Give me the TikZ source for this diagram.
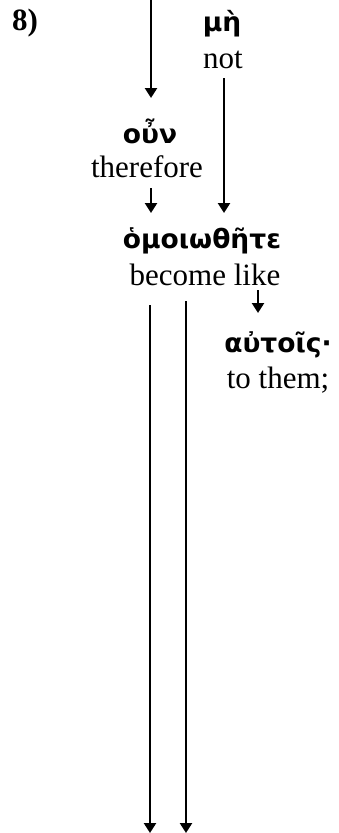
\documentclass[tikz,border=0pt]{standalone}
\usepackage{fontspec}
\setmainfont{Liberation Serif}
\newfontfamily\greekfont{DejaVu Sans}
\usetikzlibrary{arrows.meta}
\tikzset{
  eng/.style={inner sep=0pt, font=\fontsize{31}{36}\selectfont},
  grk/.style={inner sep=0pt, font=\greekfont\bfseries\fontsize{26.5}{32}\selectfont},
  conn/.style={line width=2.4pt, -{Triangle[width=12pt,length=10pt]}},
}
\begin{document}
\begin{tikzpicture}[x=1pt,y=-1pt]
\useasboundingbox (0,0) rectangle (338,833);
\node[eng, font=\bfseries\fontsize{31}{36}\selectfont] (num) at (25,23) {8)};
\coordinate (top) at (151,0);
\node[grk] (me) at (222,24) {μὴ};
\node[eng] (not) at (223,60) {not};
\node[grk] (oun) at (150,131) {οὖν};
\node[eng] (therefore) at (147,167) {therefore};
\node[grk] (homo) at (202,241) {ὁμοιωθῆτε};
\node[eng] (become) at (205,275) {become like};
\node[grk] (autois) at (278,345) {αὐτοῖς·};
\node[eng] (tothem) at (278,380) {to them;};
\coordinate (l1s) at (150,305);
\coordinate (l1e) at (150,833);
\coordinate (l2s) at (186,301);
\coordinate (l2e) at (186,833);
\coordinate (a1e) at (151,98);
\coordinate (a2s) at (224,78);
\coordinate (a2e) at (224,213);
\coordinate (a3s) at (151,188);
\coordinate (a3e) at (151,213);
\coordinate (a4s) at (258,290);
\coordinate (a4e) at (258,313);
\draw[conn] (top) -- (a1e);
\draw[conn] (a2s) -- (a2e);
\draw[conn] (a3s) -- (a3e);
\draw[conn] (a4s) -- (a4e);
\draw[conn] (l1s) -- (l1e);
\draw[conn] (l2s) -- (l2e);
\end{tikzpicture}
\end{document}
